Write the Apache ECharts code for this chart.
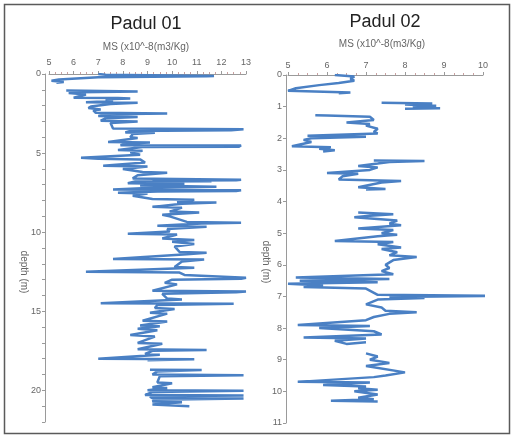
<!DOCTYPE html>
<html><head><meta charset="utf-8">
<script src="https://cdn.jsdelivr.net/npm/echarts@6/dist/echarts.min.js"></script>
<style>html,body{margin:0;padding:0;background:#fff}#c{width:514px;height:438px}</style>
</head><body><div id="c"></div>
<script>
// Titles and axis texts
const panelTitles = ['Padul 01', 'Padul 02'];
const msAxisName = 'MS (x10^-8(m3/Kg)';
const depthAxisName = 'depth (m)';

// Padul 01 : segments of [MS value, depth (m)]
const padul01Seg1 = [[7.0,0.0],[7.3,0.05],[11.7,0.12],[11.4,0.15],[7.0,0.2],[5.4,0.35],[5.1,0.42],[5.6,0.5],[5.3,0.55]];
const padul01Seg2 = [[5.7,1.05],[8.6,1.1],[6.2,1.15],[5.8,1.2],[6.5,1.3],
 [6.0,1.5],[7.8,1.52],[8.3,1.55],[7.3,1.6],[7.6,1.7],[6.5,1.78],[8.6,1.82],[7.5,1.9],
 [6.7,2.05],[6.6,2.15],[7.1,2.25],[6.8,2.3],[6.9,2.45],[9.8,2.5],[7.4,2.55],[7.0,2.65],[8.6,2.72],[7.3,2.8],[7.1,2.95],[8.6,3.0],[7.5,3.1],
 [7.6,3.45],[12.9,3.5],[12.4,3.55],[8.3,3.6],[8.1,3.7],[9.3,3.72],[8.4,3.8],[8.3,4.0],[8.6,4.05],
 [7.4,4.3],[9.1,4.33],[8.2,4.4],[7.9,4.5],[12.8,4.52],[12.7,4.6],[8.8,4.62],[7.8,4.8],[8.8,4.85],[8.3,4.95],
 [8.7,5.1],[6.3,5.3],[7.0,5.35],[8.7,5.4],[8.9,5.6],[7.2,5.8],[9.0,5.85],[8.0,6.0],[8.2,6.05],
 [8.8,6.2],[9.8,6.25],[8.6,6.4],[8.4,6.6],[12.8,6.68],[12.6,6.72],[9.2,6.75],[11.6,6.78],[8.5,6.8],[8.2,6.9],[10.5,6.95],[8.7,7.05],[11.8,7.12],[9.0,7.2],[7.6,7.3],[12.8,7.35],[12.6,7.4],[9.4,7.43],[7.8,7.5],[9.0,7.55],[8.4,7.7],
 [9.2,7.9],[10.9,7.95],[10.2,8.1],[11.8,8.12],[10.4,8.2],[9.2,8.4],[10.4,8.45],[9.9,8.7],[11.1,8.75],[9.6,8.9],[9.9,9.0],
 [10.6,9.35],[12.8,9.4],[11.2,9.45],[9.4,9.6],[11.4,9.65],[9.8,9.8],[9.9,9.95],[8.2,10.1],[10.2,10.15],[9.6,10.4],[10.9,10.5],[10.0,10.6],[10.9,10.75],[10.1,10.9],
 [10.3,11.25],[11.4,11.3],[10.6,11.4],[7.6,11.7],[11.3,11.72],[10.4,11.85],[10.1,12.2],[10.9,12.25],[6.5,12.5],[10.3,12.55],[10.5,12.7],[13.0,12.88],[12.8,12.95],[10.0,13.0],[9.7,13.2],[10.2,13.3],
 [9.2,13.7],[13.0,13.75],[12.6,13.8],[9.6,13.9],[9.8,14.2],[10.4,14.25],[7.1,14.5],[12.5,14.52],[9.4,14.6],[9.3,14.8],[10.1,14.85],[9.1,15.1],[9.8,15.15],
 [8.8,15.6],[9.8,15.65],[8.7,15.9],[9.5,15.95],[8.6,16.1],[9.4,16.2],[8.3,16.5],[9.3,16.6],[8.6,17.0],[9.6,17.05],[8.6,17.4],[11.4,17.45],[9.2,17.5],[8.9,17.7],[9.5,17.75],[7.0,18.0],[10.9,18.03],[9.0,18.1]];
const padul01Seg3 = [[9.1,18.7],[11.2,18.72],[9.4,18.8],[9.2,19.0],[12.9,19.05],[9.5,19.1],[9.4,19.5],[10.0,19.55],[9.2,19.8],[9.8,19.85],[9.0,20.0],[12.9,20.02],[9.2,20.1],[8.9,20.3],[12.9,20.32],[10.4,20.36],[9.1,20.4],[9.2,20.5],[12.9,20.52],[9.3,20.6],[9.2,20.7],[10.4,20.75],[9.2,20.9],[10.7,21.0]];

// Padul 02 : segments of [MS value, depth (m)]
const padul02Seg1 = [[6.2,0.0],[6.7,0.05],[6.6,0.12],[6.7,0.18],[6.3,0.25],[5.8,0.32],[5.2,0.42],[5.0,0.5],[6.6,0.55],[6.3,0.58]];
const padul02Seg2 = [[7.4,0.88],[8.7,0.9],[8.0,0.93],[8.8,0.97],[8.2,1.0],[8.9,1.05],[8.0,1.07]];
const padul02Seg3 = [[5.7,1.27],[6.0,1.28],[7.1,1.32],[7.2,1.42],[6.5,1.5],[7.1,1.55],[7.0,1.6],[7.3,1.7],[7.2,1.8],[7.3,1.85],[5.5,1.92],[7.0,1.95],[5.6,2.0],[5.4,2.05],[5.6,2.12],[5.1,2.25],[6.1,2.28],[5.8,2.33],[6.2,2.38],[5.9,2.42]];
const padul02Seg4 = [[7.2,2.7],[8.5,2.72],[7.6,2.75],[7.3,2.8],[6.8,2.88],[7.3,2.92],[7.1,3.0],[6.0,3.1],[6.8,3.12],[6.4,3.2],[6.3,3.3],[7.9,3.35],[7.4,3.4],[6.8,3.55],[7.5,3.6],[7.0,3.62]];
const padul02Seg5 = [[6.8,4.35],[7.7,4.4],[7.1,4.45],[6.7,4.5],[7.8,4.6],[7.6,4.7],[7.9,4.75],[6.8,4.85],[7.7,4.9],[7.4,5.0],[7.8,5.05],[7.3,5.1],[6.2,5.25],[7.7,5.28],[7.3,5.35],[7.9,5.45],[7.4,5.5],[7.8,5.6],[7.6,5.7],[8.3,5.75],[7.7,5.85],[7.5,6.0],[7.6,6.1],[7.4,6.2],[7.7,6.3],[5.2,6.4],[7.6,6.45],[5.3,6.5],[7.3,6.55],[5.0,6.6],[5.9,6.65],[5.4,6.7],[7.0,6.75],
 [7.3,6.95],[10.6,6.98],[7.6,7.02],[8.5,7.05],[7.3,7.1],[7.0,7.25],[7.4,7.35],[7.5,7.45],[8.3,7.5],[7.6,7.55],[7.2,7.65],[7.0,7.75],[5.25,7.9],[7.1,7.93],[5.8,8.0],[7.2,8.1],[7.4,8.2],[5.4,8.3],[7.0,8.33],[6.2,8.4],[6.5,8.5],[7.0,8.45]];
const padul02Seg6 = [[7.0,8.8],[7.3,8.9],[7.1,9.0],[7.6,9.1],[7.0,9.2],[8.0,9.4],[7.5,9.5],[7.2,9.55],[5.25,9.7],[7.1,9.72],[5.9,9.8],[7.0,9.85],[6.8,9.9],[7.3,9.95],[6.7,10.0],[7.3,10.1],[6.8,10.2],[7.2,10.25],[6.1,10.3],[7.3,10.32]];

function joinSegments(segs){
  const out = [];
  segs.forEach((s,i)=>{ if(i>0) out.push(['-','-']); s.forEach(p=>out.push(p)); });
  return out;
}
const padul01Data = joinSegments([padul01Seg1, padul01Seg2, padul01Seg3]);
const padul02Data = joinSegments([padul02Seg1, padul02Seg2, padul02Seg3, padul02Seg4, padul02Seg5, padul02Seg6]);

const FONT = "'Liberation Sans', Arial, sans-serif";
const lineColor = '#4a80c4';
const axisGray = '#9a9a9a';
const labelGray = '#666';

function xAx(gi, min, max, offset, margin){
  return {
    type:'value', gridIndex:gi, position:'top', min:min, max:max, interval:1, offset:offset,
    axisLine:{show:true, lineStyle:{color:axisGray, width:1}},
    axisTick:{show:true, inside:false, length:3, lineStyle:{color:axisGray}},
    minorTick:{show:true, splitNumber:4, length:2, lineStyle:{color:'#c9a0a0'}},
    axisLabel:{fontSize:9, color:labelGray, margin:margin, fontFamily:FONT},
    splitLine:{show:false}
  };
}
function yAx(gi, max, offset, fmt){
  return {
    type:'value', gridIndex:gi, inverse:true, min:0, max:max, interval:1, offset:offset,
    axisLine:{show:true, lineStyle:{color:axisGray, width:1}},
    axisTick:{show:true, length:3, lineStyle:{color:axisGray}},
    axisLabel:{fontSize:9, color:labelGray, margin:4, fontFamily:FONT, formatter:fmt},
    splitLine:{show:false}
  };
}

const chart = echarts.init(document.getElementById('c'), null, {renderer:'canvas'});
chart.setOption({
  animation:false,
  backgroundColor:'#fff',
  grid:[
    {left:49, top:74, width:197, height:348},
    {left:288, top:75, width:195, height:348}
  ],
  xAxis:[ xAx(0,5,13,4,3), xAx(1,5,10,0,5) ],
  yAxis:[
    yAx(0,22,4, v => (v % 5 === 0 ? String(v) : '')),
    yAx(1,11,2, v => String(v))
  ],
  series:[
    {type:'line', xAxisIndex:0, yAxisIndex:0, data:padul01Data, showSymbol:false, connectNulls:false,
     lineStyle:{color:lineColor, width:2.5}, z:3},
    {type:'line', xAxisIndex:1, yAxisIndex:1, data:padul02Data, showSymbol:false, connectNulls:false,
     lineStyle:{color:lineColor, width:2.5}, z:3}
  ],
  graphic:[
    {type:'rect', shape:{x:4.5, y:4.5, width:505, height:429}, style:{fill:'none', stroke:'#5a5a5a', lineWidth:1.5}, silent:true},
    {type:'text', x:146, y:24, style:{text:panelTitles[0], font:"18px "+FONT, fill:'#222', textAlign:'center', textVerticalAlign:'middle'}},
    {type:'text', x:385, y:22, style:{text:panelTitles[1], font:"18px "+FONT, fill:'#222', textAlign:'center', textVerticalAlign:'middle'}},
    {type:'text', x:146, y:47, style:{text:msAxisName, font:"10px "+FONT, fill:'#666', textAlign:'center', textVerticalAlign:'middle'}},
    {type:'text', x:382, y:44, style:{text:msAxisName, font:"10px "+FONT, fill:'#666', textAlign:'center', textVerticalAlign:'middle'}},
    {type:'text', x:24, y:272, rotation:-Math.PI/2, style:{text:depthAxisName, font:"10px "+FONT, fill:'#666', textAlign:'center', textVerticalAlign:'middle'}},
    {type:'text', x:266, y:262, rotation:-Math.PI/2, style:{text:depthAxisName, font:"10px "+FONT, fill:'#666', textAlign:'center', textVerticalAlign:'middle'}}
  ]
});
</script></body></html>
